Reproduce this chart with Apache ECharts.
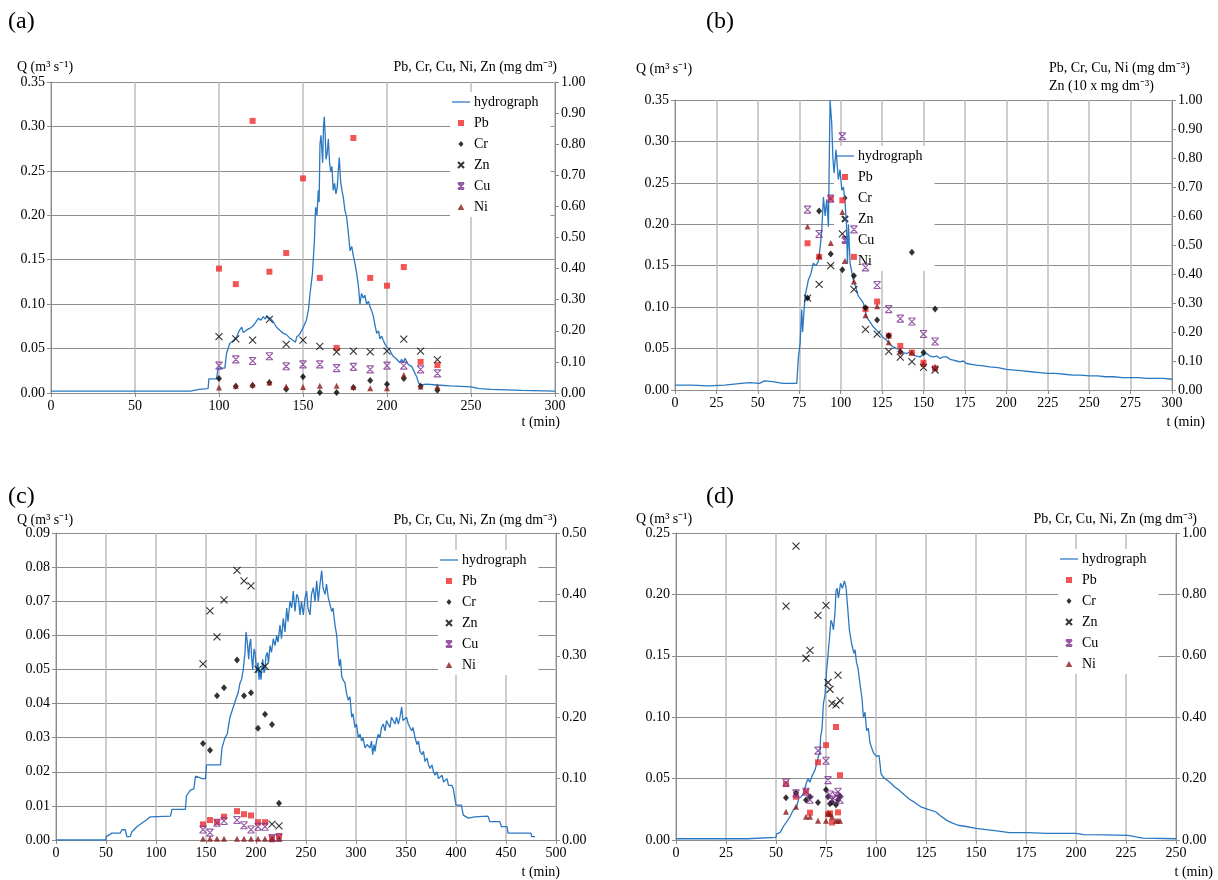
<!DOCTYPE html>
<html><head><meta charset="utf-8">
<script src="https://cdn.jsdelivr.net/npm/echarts@6/dist/echarts.min.js"></script>
<style>html,body{margin:0;padding:0;background:#fff}#c{width:1218px;height:880px}</style>
</head><body><div id="c"></div>
<script>
// ---------- DATA ----------
const names = ['hydrograph','Pb','Cr','Zn','Cu','Ni'];

// Panel (a)
const hydroA = [[0,0.002],[83,0.002],[88,0.004],[93.5,0.005],[94,0.016],[98.5,0.016],[99.5,0.028],[103.5,0.028],[104.5,0.045],[106.5,0.056],[108,0.058],[110.5,0.063],[112,0.07],[113.5,0.074],[114.5,0.068],[116.5,0.071],[118.5,0.073],[120.5,0.076],[122,0.08],[123.4,0.084],[125,0.082],[126.4,0.086],[127.5,0.083],[128.5,0.087],[130.4,0.084],[132,0.081],[134.3,0.074],[136,0.071],[138.3,0.067],[140,0.066],[142,0.062],[144.2,0.059],[145.5,0.057],[146.2,0.063],[148,0.066],[150.2,0.074],[152,0.082],[153.2,0.093],[154.2,0.112],[155.6,0.134],[156.8,0.172],[157.5,0.209],[158.3,0.2],[159.1,0.228],[159.6,0.215],[160.1,0.28],[160.7,0.29],[161.2,0.275],[161.7,0.259],[162.2,0.3],[162.7,0.311],[163.2,0.29],[163.7,0.263],[164.4,0.27],[165.1,0.286],[165.8,0.26],[166.5,0.249],[167.2,0.255],[168,0.228],[168.8,0.236],[169.6,0.224],[170.4,0.232],[171,0.25],[171.6,0.265],[172.4,0.238],[173.2,0.228],[174,0.22],[175,0.205],[176,0.198],[177,0.18],[178,0.16],[179,0.165],[180,0.154],[181,0.145],[182,0.134],[183,0.12],[183.9,0.10],[184.8,0.112],[185.9,0.107],[186.8,0.11],[187.9,0.10],[189,0.103],[189.9,0.097],[191,0.092],[191.9,0.086],[193,0.075],[193.9,0.067],[195,0.07],[195.8,0.061],[196.8,0.064],[197.8,0.059],[198.8,0.055],[199.8,0.052],[200.8,0.05],[201.8,0.048],[202.8,0.044],[203.8,0.041],[204.8,0.043],[205.8,0.038],[206.8,0.036],[207.7,0.034],[208.7,0.038],[209.7,0.034],[210.7,0.039],[211.7,0.038],[212.7,0.032],[213.7,0.034],[214.7,0.03],[215.7,0.026],[216.7,0.022],[217.7,0.018],[218.7,0.012],[219.6,0.009],[223.6,0.010],[229.6,0.009],[237.5,0.008],[250,0.007],[255,0.005],[262,0.004],[280,0.003],[300,0.002]];
const tA  = [100,110,120,130,140,150,160,170,180,190,200,210,220,230];
const PbA = [0.40,0.35,0.875,0.39,0.45,0.69,0.37,0.145,0.82,0.37,0.345,0.405,0.10,0.09];
const CrA = [0.047,0.022,0.024,0.034,0.012,0.052,0.002,0.002,0.018,0.04,0.028,0.047,0.022,0.009];
const ZnA = [0.181,0.174,0.17,0.237,0.156,0.17,0.15,0.132,0.135,0.132,0.135,0.173,0.135,0.107];
const CuA = [0.088,0.108,0.103,0.118,0.086,0.092,0.092,0.080,0.084,0.076,0.088,0.088,0.076,0.063];
const NiA = [0.018,0.023,0.027,0.034,0.021,0.019,0.023,0.023,0.019,0.015,0.015,0.058,0.021,0.021];

// Panel (b)
const hydroB = [[0,0.006],[10,0.006],[20,0.005],[30,0.006],[40,0.008],[45,0.009],[51,0.008],[54,0.011],[59,0.01],[65,0.008],[73.5,0.008],[74.5,0.04],[75.5,0.056],[76.5,0.097],[77,0.07],[78.5,0.113],[80.5,0.133],[82,0.14],[83.5,0.153],[85,0.15],[86.5,0.155],[87.5,0.17],[88.6,0.193],[89.6,0.233],[90.6,0.21],[91.6,0.23],[92.6,0.197],[93.6,0.35],[94.6,0.322],[95.3,0.28],[96,0.262],[97.2,0.29],[98.6,0.254],[99.6,0.266],[100.7,0.241],[101.7,0.245],[102.7,0.225],[103.5,0.2],[104.1,0.153],[104.7,0.2],[105.7,0.153],[107.6,0.133],[109,0.125],[110.7,0.113],[112,0.11],[113.7,0.105],[115.7,0.088],[117.8,0.082],[119.8,0.076],[121.8,0.072],[123.8,0.068],[125.8,0.063],[127.8,0.06],[129.8,0.055],[131.8,0.052],[133.8,0.05],[135.8,0.049],[137.8,0.045],[139.9,0.044],[141.9,0.046],[143.9,0.042],[145.9,0.041],[147.9,0.04],[150,0.043],[151.9,0.044],[153.9,0.041],[155.9,0.040],[158,0.041],[160,0.038],[162,0.04],[164,0.04],[166,0.037],[168,0.036],[170,0.035],[172,0.034],[174,0.035],[176,0.032],[179,0.031],[182,0.030],[186,0.029],[190,0.028],[195,0.027],[200,0.025],[205,0.024],[210,0.023],[215,0.022],[220,0.021],[225,0.020],[230,0.020],[235,0.019],[240,0.018],[245,0.018],[250,0.017],[255,0.017],[260,0.016],[265,0.016],[270,0.015],[275,0.015],[280,0.015],[285,0.014],[290,0.014],[295,0.014],[300,0.013]];
const tB  = [80,87,94,101,108,115,122,129,136,143,150,157];
const PbB = [0.506,0.459,0.66,0.654,0.459,0.279,0.305,0.187,0.152,0.129,0.094,0.075];
const CrB = [0.317,0.617,0.469,0.415,0.394,0.284,0.241,0.187,0.132,0.475,0.129,0.279];
const ZnB = [0.317,0.364,0.429,0.538,0.347,0.209,0.193,0.133,0.113,0.098,0.078,0.069];
const CuB = [0.622,0.538,0.66,0.875,0.554,0.423,0.362,0.279,0.246,0.236,0.193,0.167];
const NiB = [0.564,0.463,0.507,0.614,0.374,0.258,0.289,0.165,0.134,0.129,0.09,0.08];

// Panel (c)
const hydroC = [[0,0],[50,0],[50.2,0.001],[55.9,0.002],[64.2,0.002],[65.9,0.003],[69.2,0.003],[70.9,0.001],[74.2,0.001],[75.9,0.0024],[80.9,0.0039],[86,0.005],[91,0.006],[94.3,0.0068],[114.4,0.007],[116,0.009],[129.4,0.009],[130.4,0.0129],[134.4,0.0146],[137.8,0.015],[139.5,0.0187],[146.2,0.018],[149.5,0.018],[150.5,0.022],[164.5,0.022],[166,0.027],[168,0.029],[169,0.030],[171.2,0.031],[172.3,0.033],[174,0.036],[176,0.036],[177.3,0.039],[179,0.039],[180.7,0.042],[182,0.043],[184,0.046],[185.5,0.047],[187.3,0.050],[189,0.055],[190,0.061],[191.3,0.058],[192.7,0.053],[193.5,0.057],[194.7,0.059],[195.5,0.054],[196.7,0.05],[198,0.056],[199,0.055],[200.7,0.049],[202,0.052],[203,0.047],[204,0.05],[205,0.047],[206.7,0.053],[208,0.049],[209,0.050],[210,0.054],[211.3,0.055],[212.5,0.052],[214,0.057],[215.5,0.055],[217.3,0.059],[219,0.057],[220.7,0.06],[222,0.058],[224,0.063],[225.5,0.059],[227.3,0.065],[229,0.061],[230.7,0.068],[232,0.064],[234,0.070],[235.7,0.068],[237.3,0.073],[239,0.067],[240.7,0.072],[242.3,0.071],[244,0.066],[245.5,0.07],[247.3,0.066],[249,0.071],[250.7,0.073],[252,0.068],[254,0.066],[255.5,0.072],[257.3,0.074],[259,0.07],[260.7,0.076],[262.3,0.07],[264,0.075],[265.7,0.079],[267,0.074],[269,0.072],[270.5,0.075],[272.3,0.071],[274,0.069],[275.7,0.067],[277,0.068],[279,0.063],[280.7,0.06],[282,0.055],[283.3,0.051],[284.5,0.053],[285.7,0.048],[287,0.047],[289,0.046],[290.5,0.043],[292.3,0.041],[294,0.042],[295.7,0.036],[297,0.037],[299,0.033],[300.5,0.034],[302.3,0.030],[304,0.031],[305.7,0.029],[307,0.03],[309,0.027],[311,0.028],[314,0.027],[315.5,0.029],[316.7,0.025],[318,0.028],[319,0.026],[320.5,0.029],[322.3,0.031],[324,0.030],[325.5,0.033],[327.3,0.034],[329,0.032],[330.5,0.035],[332.3,0.035],[334,0.033],[335.5,0.036],[337.3,0.036],[339,0.034],[340.5,0.036],[342.3,0.034],[344,0.036],[345.7,0.039],[347,0.035],[349,0.035],[350.5,0.036],[352.3,0.034],[354,0.033],[355.7,0.032],[357,0.033],[359,0.030],[361,0.028],[362.5,0.029],[364,0.026],[366,0.025],[367.5,0.026],[369,0.023],[371,0.024],[372.5,0.022],[374,0.021],[376,0.022],[377.5,0.02],[379,0.019],[381,0.02],[382.5,0.018],[384,0.018],[386,0.019],[387.5,0.017],[389,0.017],[391,0.018],[392.5,0.016],[394,0.016],[396,0.016],[397.3,0.015],[399,0.012],[400,0.0102],[405.4,0.0102],[407.3,0.0073],[412.3,0.0064],[418.7,0.0068],[432,0.007],[433.8,0.0054],[443.8,0.0054],[445.5,0.0039],[451,0.0039],[452,0.002],[475,0.002],[475.6,0.001],[479,0.001]];
const tC  = [147,154,161,168,181,188,195,202,209,216,223];
const PbC = [0.0255,0.0325,0.029,0.038,0.047,0.042,0.040,0.029,0.029,0.003,0.0065];
const CrC = [0.157,0.146,0.235,0.248,0.293,0.235,0.240,0.182,0.205,0.188,0.060];
const ZnC = [0.287,0.373,0.331,0.391,0.439,0.422,0.414,0.278,0.283,0.026,0.023];
const CuC = [0.017,0.012,0.028,0.031,0.0325,0.024,0.017,0.0217,0.0217,0.003,0.004];
const NiC = [0.002,0.002,0.002,0.002,0.002,0.002,0.002,0.002,0.002,0.002,0.002];

// Panel (d)
const hydroD = [[0,0.001],[35.5,0.001],[36,0.0015],[50,0.0022],[50.3,0.005],[52,0.006],[53.7,0.011],[55.8,0.016],[57,0.019],[58.5,0.024],[60.3,0.027],[61.4,0.034],[62.5,0.035],[63.7,0.038],[65.1,0.046],[66,0.05],[66.9,0.047],[68,0.052],[69.5,0.057],[70.3,0.062],[71.2,0.068],[72,0.072],[72.3,0.084],[73,0.09],[73.7,0.111],[74.5,0.118],[75.3,0.138],[76,0.15],[76.5,0.16],[77.5,0.179],[78.2,0.176],[78.7,0.171],[79.5,0.185],[80,0.203],[80.6,0.205],[81.2,0.197],[82.3,0.209],[83.2,0.205],[84.2,0.211],[85,0.206],[85.8,0.19],[86.7,0.171],[87.8,0.160],[89,0.152],[89.5,0.155],[90.3,0.144],[91,0.14],[92,0.127],[93,0.115],[93.7,0.1],[94.5,0.104],[95.3,0.089],[96.2,0.091],[97,0.079],[98.7,0.071],[100.3,0.068],[101.5,0.069],[102,0.062],[102.5,0.054],[103.7,0.051],[105.3,0.049],[107.6,0.046],[109.5,0.043],[111.3,0.041],[114,0.037],[116.9,0.033],[119,0.031],[122.4,0.027],[126,0.025],[129.8,0.023],[132,0.02],[135.4,0.016],[138,0.014],[141,0.012],[145,0.011],[150.1,0.0095],[155,0.0085],[159.4,0.0076],[166.8,0.006],[176,0.006],[185.3,0.0054],[200.1,0.0054],[203.8,0.0043],[215,0.0042],[226,0.0038],[230,0.0025],[233.4,0.0016],[250,0.001]];
const tD  = [55,60,65,67,71,75,76,77,78,80,81,82];
const PbD = [0.182,0.141,0.157,0.089,0.253,0.309,0.084,0.087,0.057,0.368,0.09,0.211];
const CrD = [0.138,0.154,0.130,0.141,0.122,0.164,0.141,0.118,0.123,0.115,0.13,0.143];
const ZnD = [0.762,0.957,0.592,0.618,0.732,0.764,0.513,0.491,0.445,0.44,0.537,0.454];
const CuD = [0.187,0.152,0.157,0.131,0.291,0.258,0.195,0.148,0.132,0.144,0.157,0.131];
const NiD = [0.092,0.108,0.076,0.076,0.063,0.063,0.087,0.085,0.076,0.063,0.063,0.063];

// Axis ranges
const xMax = [300,300,500,250], xInt = [50,25,50,25];
const qMax = [0.35,0.35,0.09,0.25], qInt = [0.05,0.05,0.01,0.05];
const cMax = [1.0,1.0,0.5,1.0], cInt = [0.1,0.1,0.1,0.2];
const panelLabels = ['(a)','(b)','(c)','(d)'];
const qTitle = 'Q (m\u00B3 s\u207B\u00B9)';
const cTitle = 'Pb, Cr, Cu, Ni, Zn (mg dm\u207B\u00B3)';
const cTitleB1 = 'Pb, Cr, Cu, Ni (mg dm\u207B\u00B3)';
const cTitleB2 = 'Zn (10 x mg dm\u207B\u00B3)';
const tTitle = 't (min)';

// ---------- CHART ----------
const FONT = '"Liberation Serif", "Times New Roman", serif';
const panels = [
  {hydro:hydroA, t:tA, Pb:PbA, Cr:CrA, Zn:ZnA, Cu:CuA, Ni:NiA},
  {hydro:hydroB, t:tB, Pb:PbB, Cr:CrB, Zn:ZnB, Cu:CuB, Ni:NiB},
  {hydro:hydroC, t:tC, Pb:PbC, Cr:CrC, Zn:ZnC, Cu:CuC, Ni:NiC},
  {hydro:hydroD, t:tD, Pb:PbD, Cr:CrD, Zn:ZnD, Cu:CuD, Ni:NiD}
];
const grids = [
  {left:51, top:82, width:504, height:311},
  {left:675, top:100, width:497, height:290},
  {left:56, top:533, width:500, height:307},
  {left:676, top:533, width:500, height:307}
];
const legendPos = [
  {left:450, top:92},
  {left:834, top:146},
  {left:438, top:550},
  {left:1058, top:549}
];
const GRIDV = '#bcbcbc', GRIDH = '#8c8c8c', AXC = '#8c8c8c';
const PATH_X = 'path://M0,0L10,10M10,0L0,10';
const PATH_CU = 'path://M0,0L10,0M0,10L10,10M0,0L10,10M10,0L0,10';
const styles = {
  Pb: {symbol:'rect', symbolSize:6, itemStyle:{color:'#ee2a2a'}},
  Cr: {symbol:'diamond', symbolSize:[6,7], itemStyle:{color:'#000'}},
  Zn: {symbol:PATH_X, symbolSize:7, itemStyle:{color:'rgba(0,0,0,0)', borderColor:'#000', borderWidth:1.1}},
  Cu: {symbol:PATH_CU, symbolSize:7, itemStyle:{color:'rgba(0,0,0,0)', borderColor:'#7b2f8e', borderWidth:1.1}},
  Ni: {symbol:'triangle', symbolSize:[6,6], itemStyle:{color:'#8b1a1a'}}
};
const legendIcons = {
  hydrograph:'path://M0,0H20V1.4H0Z',
  Pb:'path://M0,0H10V10H0Z',
  Cr:'path://M5,0L10,6L5,12L0,6Z',
  Zn:PATH_X,
  Cu:PATH_CU,
  Ni:'path://M5,0L10,9L0,9Z'
};
const HYDRO = '#2a78c2';

const option = {animation:false, backgroundColor:'#fff', grid:[], xAxis:[], yAxis:[], series:[], legend:[], graphic:[]};
grids.forEach((g,i)=>{
  option.grid.push(Object.assign({containLabel:false}, g));
  option.xAxis.push({type:'value', gridIndex:i, min:0, max:xMax[i], interval:xInt[i],
    axisLine:{show:true, lineStyle:{color:AXC, width:1}},
    axisTick:{show:true, length:4, lineStyle:{color:AXC}},
    axisLabel:{fontFamily:FONT, fontSize:14, color:'#000', margin:6},
    splitLine:{show:true, lineStyle:{color:GRIDV, width:1.5}}});
  option.yAxis.push({type:'value', gridIndex:i, position:'left', min:0, max:qMax[i], interval:qInt[i],
    axisLine:{show:true, lineStyle:{color:AXC}},
    axisTick:{show:true, length:4, lineStyle:{color:AXC}},
    axisLabel:{fontFamily:FONT, fontSize:14, color:'#000', margin:6, formatter:v=>v.toFixed(2)},
    splitLine:{show:true, lineStyle:{color:GRIDH, width:1}}});
  option.yAxis.push({type:'value', gridIndex:i, position:'right', min:0, max:cMax[i], interval:cInt[i],
    axisLine:{show:true, lineStyle:{color:AXC}},
    axisTick:{show:true, length:4, lineStyle:{color:AXC}},
    axisLabel:{fontFamily:FONT, fontSize:14, color:'#000', margin:6, formatter:v=>v.toFixed(2)},
    splitLine:{show:false}});
  const p = panels[i];
  option.series.push({type:'line', name:'hydrograph', xAxisIndex:i, yAxisIndex:2*i, data:p.hydro,
    symbol:'none', showSymbol:false, lineStyle:{color:HYDRO, width:1.3}, itemStyle:{color:HYDRO}, z:2});
  ['Pb','Cr','Zn','Cu','Ni'].forEach(k=>{
    option.series.push(Object.assign({type:'scatter', name:k, xAxisIndex:i, yAxisIndex:2*i+1,
      data:p.t.map((t,j)=>[t,p[k][j]]), z:3}, styles[k]));
  });
  option.legend.push(Object.assign({orient:'vertical', z:1,
    data:names.map(n=>({name:n, icon:legendIcons[n]})),
    itemWidth:18, itemHeight:6, itemGap:7,
    selectedMode:false, backgroundColor:'#fff', padding:[3,12,3,2],
    textStyle:{fontFamily:FONT, fontSize:14, color:'#000', padding:[0,0,0,-1]}}, legendPos[i]));
});

function txt(text, x, y, size, align){
  return {type:'text', x:x, y:y, z:100, style:{text:text, font: size+'px '+FONT, fill:'#000', textAlign:align||'left', textVerticalAlign:'middle'}};
}
option.graphic = [
  txt(panelLabels[0], 8, 22, 24), txt(panelLabels[1], 706, 22, 24),
  txt(panelLabels[2], 8, 497, 24), txt(panelLabels[3], 706, 497, 24),
  txt(qTitle, 17, 67, 14), txt(cTitle, 557, 67, 14, 'right'),
  txt(qTitle, 636, 69, 14), txt(cTitleB1, 1049, 68, 14), txt(cTitleB2, 1049, 86, 14),
  txt(qTitle, 17, 520, 14), txt(cTitle, 557, 520, 14, 'right'),
  txt(qTitle, 636, 519, 14), txt(cTitle, 1197, 519, 14, 'right'),
  txt(tTitle, 560, 422, 14, 'right'), txt(tTitle, 1205, 422, 14, 'right'),
  txt(tTitle, 560, 872, 14, 'right'), txt(tTitle, 1213, 872, 14, 'right')
];

const chart = echarts.init(document.getElementById('c'), null, {renderer:'canvas', width:1218, height:880});
chart.setOption(option);
</script></body></html>
